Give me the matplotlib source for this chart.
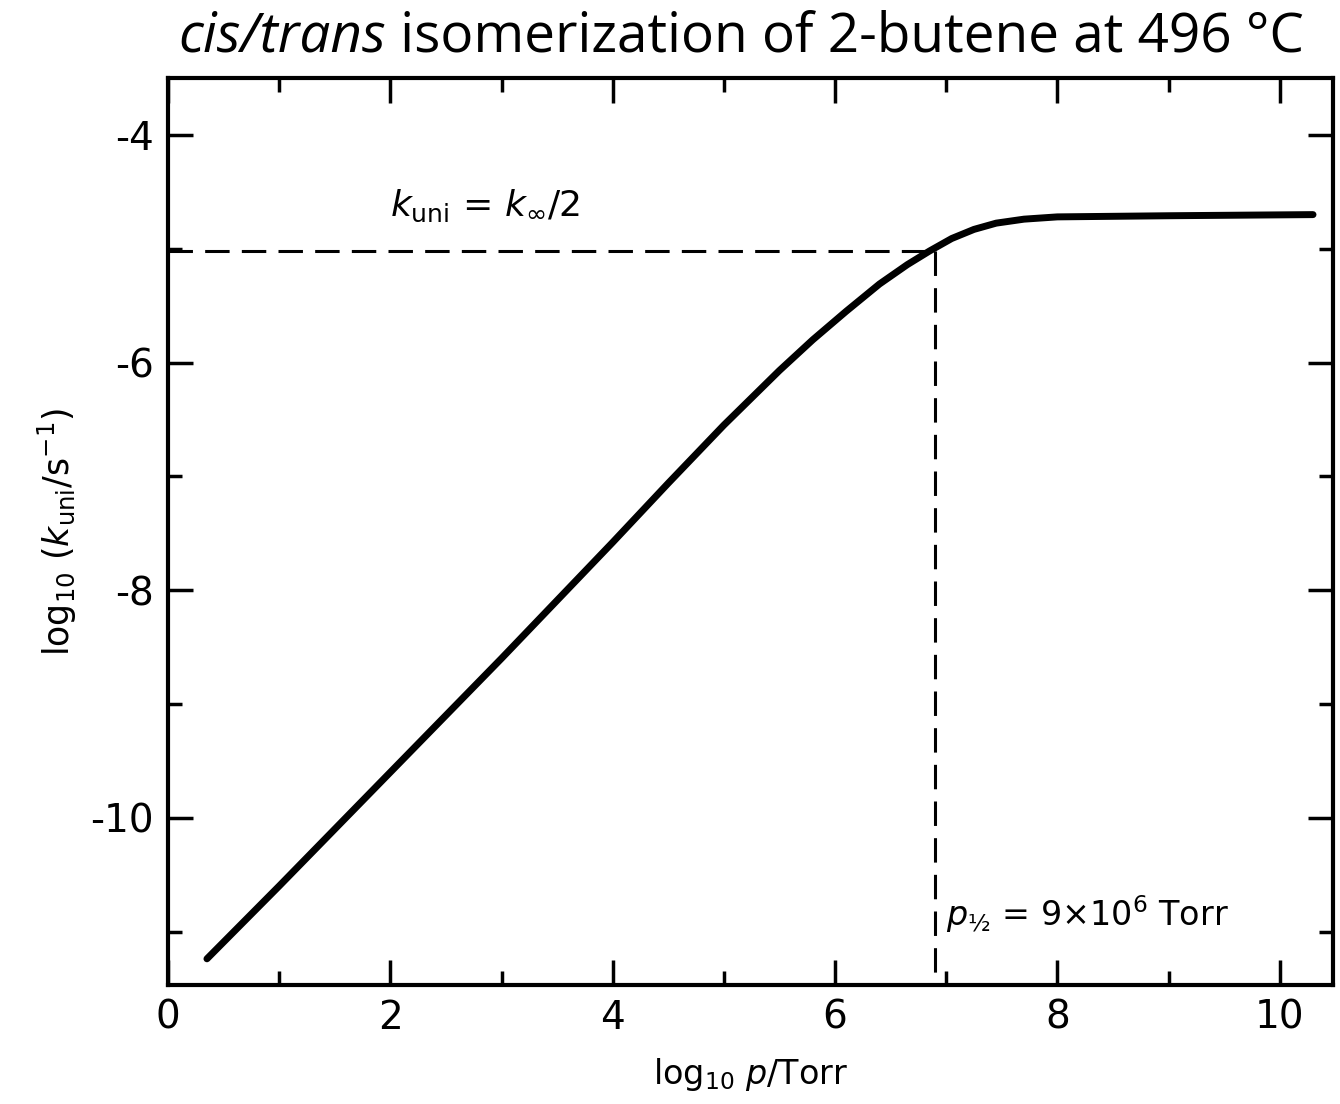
import matplotlib
matplotlib.use("Agg")
import matplotlib.pyplot as plt
from matplotlib.ticker import MultipleLocator
from matplotlib.text import Annotation

plt.rcParams['font.family'] = ['DejaVu Sans']
plt.rcParams['axes.unicode_minus'] = False
plt.rcParams['mathtext.fontset'] = 'dejavusans'

# Data
log_p = [0.35, 1.0, 2.0, 3.0, 4.0, 4.5, 5.0, 5.5, 5.8, 6.1, 6.4, 6.65, 6.85, 7.05,
         7.25, 7.45, 7.7, 8.0, 9.0, 10.3]
log_k = [-11.24, -10.60, -9.60, -8.60, -7.58, -7.06, -6.55, -6.07, -5.80, -5.55,
         -5.31, -5.14, -5.02, -4.91, -4.83, -4.775, -4.74, -4.72, -4.71, -4.70]
half_k = -5.02          # log10(k_inf/2)
half_p = 6.90           # log10(p_1/2)
x_ticks = [0, 2, 4, 6, 8, 10]
y_ticks = [-4, -6, -8, -10]

fig = plt.figure(figsize=(13.4, 11.04), dpi=100)
ax = fig.add_axes([0.1254, 0.1078, 0.8694, 0.8215])

ax.plot(log_p, log_k, color='black', lw=5, solid_capstyle='round', solid_joinstyle='round')
ax.plot([0, half_p], [half_k, half_k], color='black', lw=2.2, dashes=(8, 4))
ax.plot([half_p, half_p], [half_k, -11.47], color='black', lw=2.2, dashes=(8, 4))

ax.set_xlim(0, 10.48)
ax.set_ylim(-11.47, -3.5)
ax.set_xticks(x_ticks)
ax.set_yticks(y_ticks)
ax.xaxis.set_minor_locator(MultipleLocator(1))
ax.yaxis.set_minor_locator(MultipleLocator(1))
ax.tick_params(which='both', direction='in', top=True, right=True, width=2.5, labelsize=28, pad=10)
ax.tick_params(which='major', length=18)
ax.tick_params(which='minor', length=10)
for s in ax.spines.values():
    s.set_linewidth(3)

ax.set_xlabel(r'log$_{10}$ $\it{p}$/Torr', fontsize=24, labelpad=14)
ax.set_ylabel(r'log$_{10}$ ($\it{k}_{\rm uni}$/s$^{-1}$)', fontsize=25, labelpad=8)

ax.text(2.0, -4.62, r'$\it{k}_{\rm uni}$ = $\it{k}_{\infty}$/2', fontsize=26, ha='left', va='center')
ax.text(7.0, -10.85, r'$\it{p}_{\rm ½}$ = 9×10$^{6}$ Torr', fontsize=24, ha='left', va='center')

t1 = fig.text(0.133, 0.953, 'cis/trans', fontsize=39.5, family='Open Sans', style='italic',
              ha='left', va='baseline')
fig.add_artist(Annotation(' isomerization of 2-butene at 496 °C', xy=(1, 0),
               xycoords=t1, ha='left', va='bottom', fontsize=39.5, family='Open Sans'))

fig.savefig('out.png', dpi=100, facecolor='white')
